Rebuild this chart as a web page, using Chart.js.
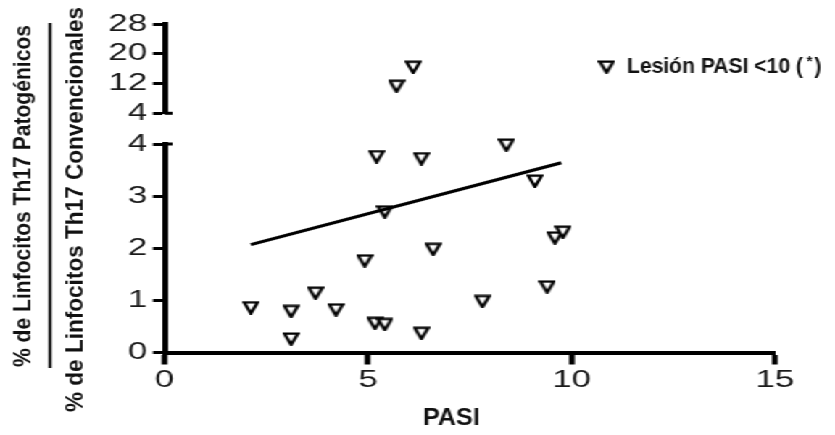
<!DOCTYPE html>
<html>
<head>
<meta charset="utf-8">
<script src="https://cdn.jsdelivr.net/npm/chart.js@4.4.0/dist/chart.umd.min.js"></script>
<style>
body { margin: 0; background: #fff; }
/* el original esta estirado en horizontal, se dibuja estrecho y se estira */
#lienzo { position: absolute; left: 0; top: 0; width: 576px; height: 435px;
          transform: scaleX(1.4497); transform-origin: 0 0; }
#lienzo canvas { position: absolute; left: 0; top: 0; }
</style>
</head>
<body>
<div id="lienzo">
  <canvas id="abajo" width="576" height="435"></canvas>
  <canvas id="arriba" width="576" height="435"></canvas>
</div>
<script>
// Datos
const pasi = [2.12, 3.11, 3.11, 3.71, 4.21, 4.92, 5.21, 5.17, 5.41, 5.41, 6.31, 6.31, 6.60, 7.81, 8.40, 9.10, 9.40, 9.59, 9.79, 5.70, 6.11];
const cociente = [0.86, 0.79, 0.26, 1.14, 0.82, 1.76, 3.76, 0.56, 0.54, 2.70, 3.72, 0.37, 1.98, 0.98, 3.98, 3.29, 1.26, 2.20, 2.31, 11.3, 16.4];
const rectaX = [2.12, 9.75];
const rectaY = [2.07, 3.64];
const ticksX = [0, 5, 10, 15];
const ticksYBajo = [0, 1, 2, 3, 4];
const ticksYAlto = [4, 12, 20, 28];
const etiquetaSerie = 'Lesión PASI <10 (*)';
const tituloX = 'PASI';
const tituloNum = '% de Linfocitos Th17 Patogénicos';
const tituloDen = '% de Linfocitos Th17 Convencionales';

const FUENTE = '"Liberation Sans", Arial, sans-serif';
const IZQ = 113.5, DER = 534.6;
const CORTE = 4;

// marcador triangulo invertido
function triangulo() {
    const c = document.createElement('canvas');
    c.width = 12; c.height = 14;
    const g = c.getContext('2d');
    g.fillStyle = '#fff';
    g.strokeStyle = '#000';
    g.lineWidth = 2.4;
    g.beginPath();
    g.moveTo(1.3, 1.6);
    g.lineTo(10.7, 1.6);
    g.lineTo(6, 12.6);
    g.closePath();
    g.fill();
    g.stroke();
    return c;
}
const marca = triangulo();

function puntos(filtro) {
    const r = [];
    pasi.forEach((x, i) => { if (filtro(cociente[i])) r.push({x: x, y: cociente[i]}); });
    return r;
}

function texto(ctx, txt, x, y, ancho, size, vertical) {
    ctx.save();
    ctx.translate(x, y);
    if (vertical) ctx.rotate(-Math.PI / 2);
    ctx.font = 'bold ' + size + 'px ' + FUENTE;
    const w = ctx.measureText(txt).width;
    ctx.scale(ancho / w, 1);
    ctx.textAlign = 'center';
    ctx.textBaseline = 'alphabetic';
    ctx.fillText(txt, 0, 0);
    ctx.restore();
}

const rotulos = {
    id: 'rotulos',
    afterDraw(chart) {
        const ctx = chart.ctx;
        ctx.save();
        ctx.fillStyle = '#111';
        texto(ctx, tituloNum, 20.7, 196, 342, 16.5, true);
        texto(ctx, tituloDen, 57.2, 209.5, 405, 16.5, true);
        ctx.strokeStyle = '#000';
        ctx.lineWidth = 2;
        ctx.beginPath();
        ctx.moveTo(34.5, 23);
        ctx.lineTo(34.5, 368);
        ctx.stroke();
        texto(ctx, tituloX, 311.4, 425, 39.3, 24, false);

        // leyenda
        ctx.drawImage(marca, 418.4 - 6, 67 - 7);
        const partes = etiquetaSerie.split('*');
        ctx.font = 'bold 22px ' + FUENTE;
        const k = 121.4 / ctx.measureText(partes[0]).width;
        ctx.save();
        ctx.translate(432.5, 73);
        ctx.scale(k, 1);
        ctx.textAlign = 'left';
        ctx.fillText(partes[0], 0, 0);
        let w = ctx.measureText(partes[0]).width;
        ctx.font = 'bold 15px ' + FUENTE;
        ctx.fillText('*', w + 4, -7);
        w += 4 + ctx.measureText('*').width + 2;
        ctx.font = 'bold 22px ' + FUENTE;
        ctx.fillText(partes[1], w, 0);
        ctx.restore();
        ctx.restore();
    }
};

// remates en T del eje cortado
function remate(arriba) {
    return {
        id: 'remate',
        afterDraw(chart) {
            const a = chart.chartArea, ctx = chart.ctx;
            const y = arriba ? a.top : a.bottom;
            ctx.save();
            ctx.strokeStyle = '#000';
            ctx.lineWidth = 3;
            ctx.beginPath();
            ctx.moveTo(a.left, y);
            ctx.lineTo(a.left + 5.5, y);
            ctx.stroke();
            ctx.restore();
        }
    };
}

const letra = {family: FUENTE, size: 24};

function ejeY(min, max, valores) {
    return {
        type: 'linear', min: min, max: max,
        afterBuildTicks: s => { s.ticks = valores.map(v => ({value: v})); },
        afterFit: s => { s.width = IZQ; },
        ticks: {font: letra, color: '#1a1a1a', padding: 4, autoSkip: false},
        grid: {drawOnChartArea: false, tickLength: 8, tickWidth: 3, tickColor: '#000'},
        border: {display: true, color: '#000', width: 4}
    };
}

new Chart(document.getElementById('abajo'), {
    type: 'scatter',
    data: {
        datasets: [{
            label: 'recta',
            data: rectaX.map((x, i) => ({x: x, y: rectaY[i]})),
            showLine: true,
            borderColor: '#000',
            borderWidth: 3,
            pointRadius: 0,
            clip: false,
            order: 0
        }, {
            label: etiquetaSerie,
            data: puntos(v => v <= CORTE),
            pointStyle: marca,
            clip: false,
            order: 1
        }]
    },
    options: {
        responsive: false,
        animation: false,
        layout: {padding: {top: 144, right: 576 - DER, bottom: 0, left: 0}},
        plugins: {legend: {display: false}, tooltip: {enabled: false}},
        scales: {
            x: {
                type: 'linear', min: 0, max: 15,
                afterBuildTicks: s => { s.ticks = ticksX.map(v => ({value: v})); },
                afterFit: s => { s.height = 435 - 352.5; },
                ticks: {font: letra, color: '#1a1a1a', padding: 1, maxRotation: 0, autoSkip: false},
                grid: {drawOnChartArea: false, tickLength: 12, tickWidth: 4, tickColor: '#000'},
                border: {display: true, color: '#000', width: 4}
            },
            y: ejeY(0, CORTE, ticksYBajo)
        }
    },
    plugins: [rotulos, remate(true)]
});

new Chart(document.getElementById('arriba'), {
    type: 'scatter',
    data: {
        datasets: [{
            label: etiquetaSerie,
            data: puntos(v => v > CORTE),
            pointStyle: marca,
            clip: false
        }]
    },
    options: {
        responsive: false,
        animation: false,
        layout: {padding: {top: 24, right: 576 - DER, bottom: 435 - 113.3, left: 0}},
        plugins: {legend: {display: false}, tooltip: {enabled: false}},
        scales: {
            x: {type: 'linear', min: 0, max: 15, display: false},
            y: ejeY(4, 28, ticksYAlto)
        }
    },
    plugins: [remate(false)]
});
</script>
</body>
</html>
